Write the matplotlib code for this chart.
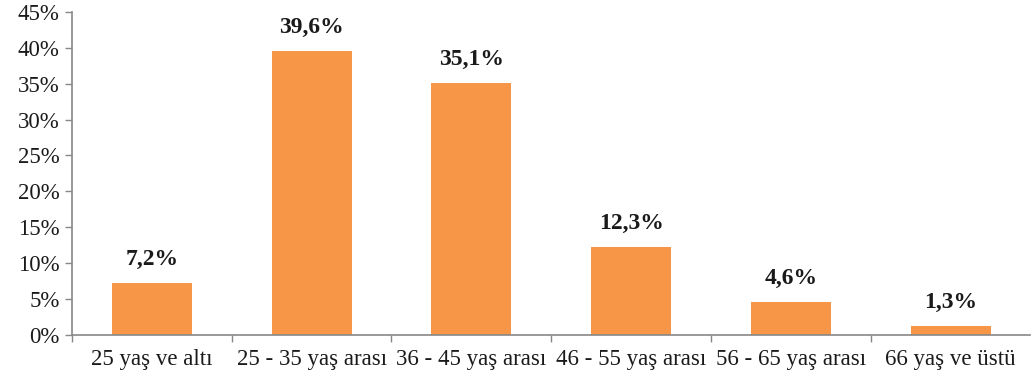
import matplotlib
matplotlib.use("Agg")
import matplotlib.pyplot as plt
import numpy as np
from matplotlib.ticker import FixedLocator, FuncFormatter

categories = ["25 yaş ve altı", "25 - 35 yaş arası", "36 - 45 yaş arası",
              "46 - 55 yaş arası", "56 - 65 yaş arası", "66 yaş ve üstü"]
values = [7.2, 39.6, 35.1, 12.3, 4.6, 1.3]
labels = ["7,2%", "39,6%", "35,1%", "12,3%", "4,6%", "1,3%"]
yticks = [0, 5, 10, 15, 20, 25, 30, 35, 40, 45]

plt.rcParams["font.family"] = ["Liberation Serif", "DejaVu Serif"]

fig = plt.figure(figsize=(10.34, 3.82), dpi=100)
ax = fig.add_axes([0.0696, 0.123, 0.927, 0.846])

x = np.arange(len(categories))
bars = ax.bar(x, values, width=0.5, color="#F79646")

for xi, v, lab in zip(x, values, labels):
    ax.text(xi, v + 1.8, lab, ha="center", va="bottom",
            fontsize=17, fontweight="bold", color="#1a1a1a")

ax.set_xlim(-0.5, len(categories) - 0.5)
ax.set_ylim(0, 45)
ax.set_yticks(yticks)
ax.yaxis.set_major_formatter(FuncFormatter(lambda v, p: f"{int(v)}%"))

# category labels centred, ticks on the category boundaries
ax.set_xticks(x)
ax.set_xticklabels(categories)
ax.xaxis.set_minor_locator(FixedLocator(np.arange(len(categories)) - 0.5))
ax.tick_params(axis="x", which="major", length=0, pad=10)
ax.tick_params(axis="x", which="minor", length=5, color="#888888", width=1)
ax.tick_params(axis="y", length=5, color="#888888", width=1, pad=4)
ax.tick_params(labelsize=16.5, labelcolor="#1a1a1a")

for side in ("top", "right"):
    ax.spines[side].set_visible(False)
for side in ("left", "bottom"):
    ax.spines[side].set_color("#888888")
    ax.spines[side].set_linewidth(1.2)

fig.savefig("out.png", dpi=100)
